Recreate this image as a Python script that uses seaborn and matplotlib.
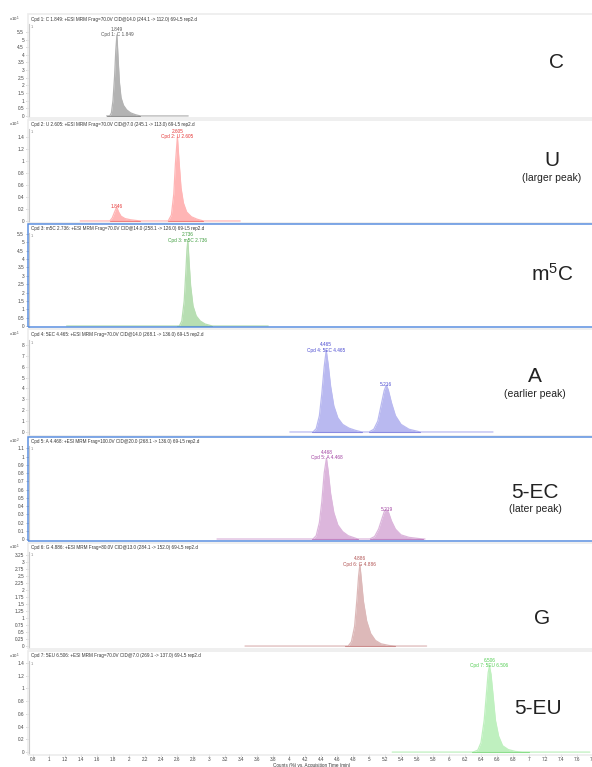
import numpy as np
import pandas as pd
import matplotlib
matplotlib.use("Agg")
import matplotlib.pyplot as plt
from matplotlib.patches import Rectangle
from matplotlib.ticker import FuncFormatter
import seaborn as sns

# traces: time (min) and counts (in units of the panel multiplier)
c_time = [1.72, 1.76, 1.78, 1.80, 1.82, 1.835, 1.849, 1.865, 1.88, 1.90, 1.93, 1.97, 2.02, 2.08, 2.14, 2.74]
c_int = [0, 0, 0.2, 1.0, 2.6, 4.3, 5.3, 3.6, 2.2, 1.2, 0.7, 0.4, 0.2, 0.08, 0, 0]

u_time = [1.39, 1.76, 1.79, 1.82, 1.846, 1.87, 1.90, 1.95, 2.02, 2.14, 2.49, 2.53, 2.56, 2.58, 2.605,
          2.625, 2.65, 2.68, 2.72, 2.78, 2.85, 2.93, 3.39]
u_int = [0, 0, 0.05, 0.15, 0.23, 0.15, 0.08, 0.04, 0.02, 0, 0, 0.1, 0.45, 0.95, 1.40,
         1.0, 0.55, 0.3, 0.15, 0.07, 0.03, 0, 0]

m5c_time = [1.22, 2.63, 2.66, 2.69, 2.71, 2.725, 2.736, 2.75, 2.77, 2.80, 2.84, 2.89, 2.95, 3.04, 3.74]
m5c_int = [0, 0, 0.3, 1.5, 3.2, 4.6, 5.1, 3.9, 2.4, 1.2, 0.6, 0.3, 0.12, 0, 0]

ec_time = [4.01, 4.30, 4.34, 4.38, 4.41, 4.44, 4.465, 4.49, 4.52, 4.56, 4.61, 4.67, 4.75, 4.83, 4.91,
           5.00, 5.06, 5.11, 5.15, 5.19, 5.216, 5.24, 5.28, 5.33, 5.40, 5.50, 5.64, 6.55]
ec_int = [0, 0, 0.3, 1.5, 3.5, 6.0, 7.5, 6.2, 4.2, 2.4, 1.3, 0.7, 0.35, 0.15, 0,
          0, 0.25, 1.0, 2.4, 3.8, 4.3, 3.9, 2.7, 1.5, 0.7, 0.25, 0, 0]

a_time = [3.10, 4.30, 4.34, 4.38, 4.41, 4.44, 4.468, 4.49, 4.52, 4.56, 4.61, 4.67, 4.74, 4.80, 4.86,
          5.01, 5.07, 5.12, 5.16, 5.19, 5.219, 5.245, 5.28, 5.33, 5.40, 5.50, 5.67, 5.70]
a_int = [0, 0, 0.04, 0.2, 0.45, 0.8, 0.98, 0.82, 0.55, 0.32, 0.17, 0.09, 0.04, 0.02, 0,
         0, 0.03, 0.12, 0.24, 0.33, 0.36, 0.32, 0.22, 0.12, 0.05, 0.02, 0, 0]

g_time = [3.45, 4.74, 4.78, 4.82, 4.85, 4.87, 4.886, 4.90, 4.93, 4.97, 5.02, 5.08, 5.15, 5.25, 5.33, 5.72]
g_int = [0, 0, 0.15, 0.7, 1.7, 2.5, 2.9, 2.5, 1.6, 0.9, 0.45, 0.2, 0.08, 0.02, 0, 0]

eu_time = [5.29, 6.30, 6.36, 6.40, 6.44, 6.47, 6.49, 6.506, 6.525, 6.55, 6.58, 6.62, 6.67, 6.74, 6.83, 6.92, 7.00, 7.76]
eu_int = [0, 0, 0.03, 0.15, 0.5, 0.95, 1.25, 1.35, 1.22, 0.9, 0.5, 0.25, 0.1, 0.04, 0.01, 0, 0, 0]

traces = [(c_time, c_int), (u_time, u_int), (m5c_time, m5c_int), (ec_time, ec_int),
          (a_time, a_int), (g_time, g_int), (eu_time, eu_int)]

headers = [
    "Cpd 1: C 1.849: +ESI MRM Frag=70.0V CID@14.0 (244.1 -> 112.0) 69-L5 rep2.d",
    "Cpd 2: U 2.605: +ESI MRM Frag=70.0V CID@7.0 (245.1 -> 113.0) 69-L5 rep2.d",
    "Cpd 3: m5C 2.736: +ESI MRM Frag=70.0V CID@14.0 (258.1 -> 126.0) 69-L5 rep2.d",
    "Cpd 4: 5EC 4.465: +ESI MRM Frag=70.0V CID@14.0 (268.1 -> 136.0) 69-L5 rep2.d",
    "Cpd 5: A 4.468: +ESI MRM Frag=100.0V CID@20.0 (268.1 -> 136.0) 69-L5 rep2.d",
    "Cpd 6: G 4.886: +ESI MRM Frag=80.0V CID@13.0 (284.1 -> 152.0) 69-L5 rep2.d",
    "Cpd 7: 5EU 6.506: +ESI MRM Frag=70.0V CID@7.0 (269.1 -> 137.0) 69-L5 rep2.d",
]
multipliers = ["1", "1", None, "1", "2", "1", "1"]

peak_rt = [[1.849], [1.846, 2.605], [2.736], [4.465, 5.216], [4.468, 5.219], [4.886], [6.506]]
peak_tag = [["Cpd 1: C 1.849"], [None, "Cpd 2: U 2.605"], ["Cpd 3: m5C 2.736"],
            ["Cpd 4: 5EC 4.465", None], ["Cpd 5: A 4.468", None], ["Cpd 6: G 4.886"],
            ["Cpd 7: 5EU 6.506"]]

integ_start = [[1.72], [1.76, 2.49], [2.60], [4.29, 5.00], [4.29, 5.01], [4.70], [6.29]]
integ_end = [[2.14], [2.14, 2.93], [3.04], [4.91, 5.64], [4.86, 5.67], [5.33], [7.00]]

right_labels = ["C", "U", "m$^{5}$C", "A", "5-EC", "G", "5-EU"]
right_notes = [None, "(larger peak)", None, "(earlier peak)", "(later peak)", None, None]

fill_colors = ["#b3b3b3", "#ffb5b5", "#b7deb2", "#b9b9f0", "#dcb6dc", "#ddb9b9", "#bff0bf"]
text_colors = ["#555555", "#e53535", "#3c9c3c", "#4848d0", "#a040a0", "#b05050", "#50cc50"]
selected = [False, False, True, False, True, False, False]

# layout in pixels
W, H = 592, 767
ax_tops = [24, 129, 233, 340, 446, 552, 661]
ax_bots = [117, 222, 327, 436, 540, 648, 754]
ylims = [(-0.07, 6.02), (-0.017, 1.533), (-0.06, 5.56), (-0.37, 8.46),
         (-0.012, 1.128), (-0.07, 3.36), (-0.03, 1.43)]
yticks = [np.arange(0, 5.51, 0.5), np.arange(0, 1.41, 0.2), np.arange(0, 5.51, 0.5),
          np.arange(0, 8.1, 1), np.arange(0, 1.11, 0.1), np.arange(0, 3.26, 0.25),
          np.arange(0, 1.41, 0.2)]
band_tops = [14, 120, 224, 329, 437, 543, 651]
band_bots = [118, 223, 327, 436, 541, 649, 755]
right_xy = [(557, 63), (552, 161), (552, 274), (535, 377), (535, 492), (542, 618), (538, 708)]

sns.set_theme(style="white")
plt.rcParams["font.family"] = ["Liberation Sans", "DejaVu Sans"]
plt.rcParams["mathtext.fontset"] = "custom"
plt.rcParams["mathtext.rm"] = "Liberation Sans"
plt.rcParams["mathtext.it"] = "Liberation Sans"

fig = plt.figure(figsize=(W / 100, H / 100), dpi=100)
fig.patch.set_facecolor("white")

fmt = FuncFormatter(lambda v, p: f"{round(v, 2):g}")
x_left = 0.75
x_right = 0.8 + (600 - 33) / 80

for i in range(7):
    top, bot = ax_tops[i], ax_bots[i]
    ax = fig.add_axes([29 / W, 1 - bot / H, (600 - 29) / W, (bot - top) / H])
    ax.set_facecolor("none")
    t, y = traces[i]
    df = pd.DataFrame({"time": t, "counts": y})
    ax.fill_between(df["time"], df["counts"], 0, color=fill_colors[i], lw=0, zorder=2)
    sns.lineplot(data=df, x="time", y="counts", ax=ax, color=fill_colors[i],
                 lw=0.9, estimator=None, sort=False, zorder=3)
    for s, e in zip(integ_start[i], integ_end[i]):
        ax.plot([s, e], [0, 0], color=text_colors[i], lw=0.8, alpha=0.55, zorder=4)

    for rt, tag in zip(peak_rt[i], peak_tag[i]):
        h = np.interp(rt, t, y)
        label = f"{rt:.3f}" if tag is None else f"{rt:.3f}\n{tag}"
        ax.annotate(label, (rt, h), xytext=(0, -1.6), textcoords="offset points",
                    ha="center", va="bottom", fontsize=3.4, color=text_colors[i],
                    multialignment="center", linespacing=1.15, zorder=5)

    ax.set_xlim(x_left, x_right)
    ax.set_ylim(*ylims[i])
    ax.set_yticks(yticks[i])
    ax.yaxis.set_major_formatter(fmt)
    ax.tick_params(axis="y", length=2, width=0.5, color="#999999", labelsize=3.4,
                   labelcolor="#444444", pad=1.5, left=True)
    for side in ["top", "right", "bottom"]:
        ax.spines[side].set_visible(False)
    ax.spines["left"].set_color("#c8c8c8")
    ax.spines["left"].set_linewidth(0.8)
    ax.set_xlabel("")
    ax.set_ylabel("")
    if i < 6:
        ax.set_xticks([])
    else:
        ax.set_xticks(np.arange(0.8, 7.81, 0.2))
        ax.xaxis.set_major_formatter(fmt)
        ax.tick_params(axis="x", length=1.5, width=0.5, color="#999999", labelsize=3.3,
                       labelcolor="#444444", pad=0.8, bottom=True)

    hy = band_tops[i] + (ax_tops[i] - band_tops[i]) * 0.5
    fig.text(31 / W, 1 - hy / H, headers[i], fontsize=3.3, color="#333333",
             va="center", ha="left")
    if multipliers[i] is not None:
        fig.text(9 / W, 1 - hy / H, "x10$^{" + multipliers[i] + "}$", fontsize=3.2,
                 color="#444444", va="center", ha="left")
    fig.text(31 / W, 1 - (ax_tops[i] + 3) / H, "1", fontsize=3, color="#888888",
             va="center", ha="left")

    ec = "#5b8fe0" if selected[i] else "#ececec"
    lw = 1.1 if selected[i] else 1.2
    fig.patches.append(Rectangle((28 / W, 1 - band_bots[i] / H), (600 - 28) / W,
                                 (band_bots[i] - band_tops[i]) / H, transform=fig.transFigure,
                                 fill=False, ec=ec, lw=lw, zorder=10))

    rx, ry = right_xy[i]
    fig.text(rx / W, 1 - ry / H, right_labels[i], fontsize=15, color="#222222",
             ha="center", va="center")
    if right_notes[i]:
        fig.text(rx / W, 1 - (ry + 17) / H, right_notes[i], fontsize=7.5,
                 color="#222222", ha="center", va="center")

fig.text(312 / W, 1 - 765.5 / H, "Counts (%) vs. Acquisition Time (min)", fontsize=3.3,
         color="#333333", ha="center", va="center")

fig.savefig("out.png", dpi=100, facecolor="white")
